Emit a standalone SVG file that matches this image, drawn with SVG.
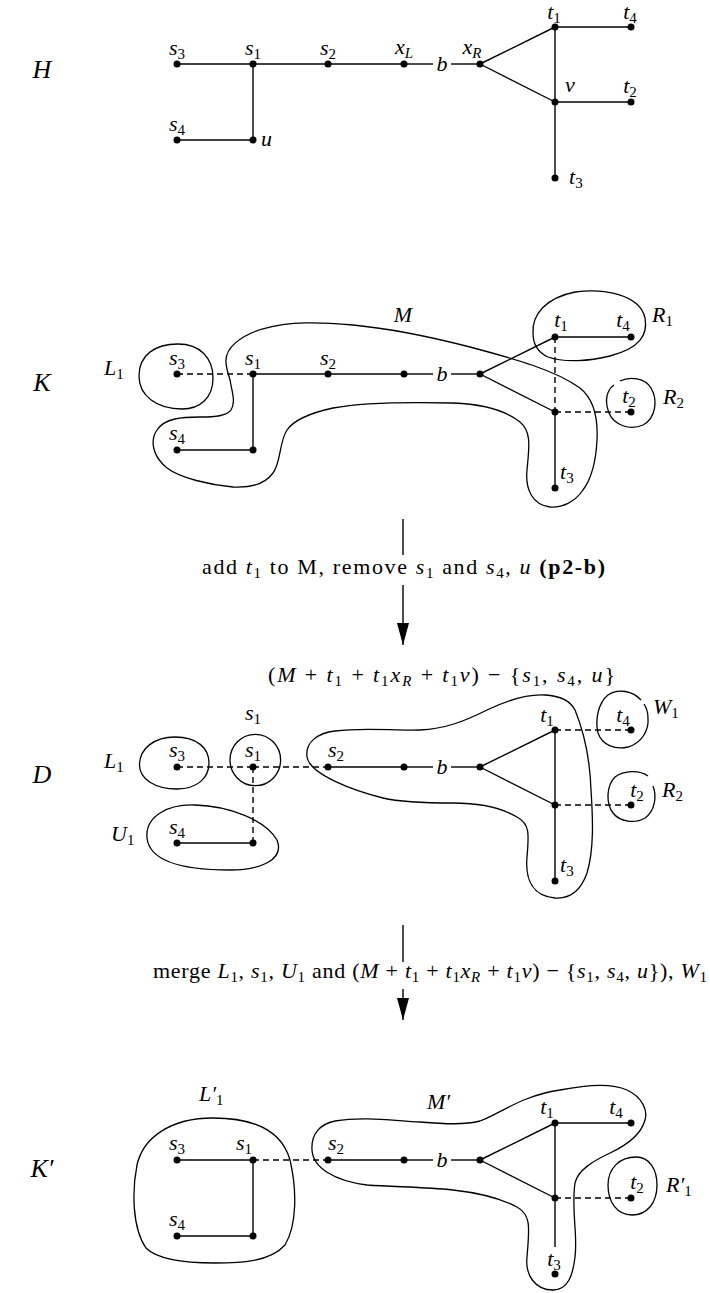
<svg xmlns="http://www.w3.org/2000/svg" width="710" height="1293" viewBox="0 0 710 1293">
<style>
.e{stroke:#000;stroke-width:1.4;fill:none}
.d{stroke:#000;stroke-width:1.4;fill:none;stroke-dasharray:6 4}
.blob{stroke:#000;stroke-width:1.3;fill:none}
.n{fill:#000}
.lb{font-family:"Liberation Serif",serif;font-style:italic;font-size:22px;fill:#000}
.rm{font-family:"Liberation Serif",serif;font-size:22px;fill:#000}
.it{font-style:italic}
.sb{font-size:15px;font-style:normal}
.sbi{font-size:15px;font-style:italic}
.sec{font-family:"Liberation Serif",serif;font-style:italic;font-size:26px;fill:#000}
</style>
<defs>
<marker id="ah" viewBox="0 0 12 22" refX="6" refY="22" markerWidth="12" markerHeight="22" markerUnits="userSpaceOnUse" orient="0"><path d="M0,0 L12,0 L6,22 Z" fill="#000"/></marker>
</defs>
<rect width="710" height="1293" fill="#fff"/>

<g id="section-labels">
<text class="sec" x="42" y="78" text-anchor="middle">H</text>
<text class="sec" x="42" y="391" text-anchor="middle">K</text>
<text class="sec" x="42" y="783" text-anchor="middle">D</text>
<text class="sec" x="42" y="1177" text-anchor="middle">K′</text>
</g>

<!-- ================= H ================= -->
<g id="H-connectors">
<line class="e" x1="177" y1="64" x2="253" y2="64"/>
<line class="e" x1="253" y1="64" x2="328" y2="64"/>
<line class="e" x1="328" y1="64" x2="404" y2="64"/>
<line class="e" x1="404" y1="64" x2="433" y2="64"/>
<line class="e" x1="451" y1="64" x2="480" y2="64"/>
<line class="e" x1="480" y1="64" x2="555" y2="27"/>
<line class="e" x1="480" y1="64" x2="555" y2="102"/>
<line class="e" x1="555" y1="27" x2="631" y2="27"/>
<line class="e" x1="555" y1="27" x2="555" y2="102"/>
<line class="e" x1="555" y1="102" x2="631" y2="102"/>
<line class="e" x1="555" y1="102" x2="555" y2="178"/>
<line class="e" x1="253" y1="64" x2="253" y2="140"/>
<line class="e" x1="177" y1="140" x2="253" y2="140"/>
</g>
<g id="H-s3"><circle class="n" cx="177" cy="64" r="3.5"/><text class="lb" x="177" y="55" text-anchor="middle">s<tspan class="sb" dy="4">3</tspan></text></g>
<g id="H-s1"><circle class="n" cx="253" cy="64" r="3.5"/><text class="lb" x="253" y="55" text-anchor="middle">s<tspan class="sb" dy="4">1</tspan></text></g>
<g id="H-s2"><circle class="n" cx="328" cy="64" r="3.5"/><text class="lb" x="328" y="55" text-anchor="middle">s<tspan class="sb" dy="4">2</tspan></text></g>
<g id="H-xL"><circle class="n" cx="404" cy="64" r="3.5"/><text class="lb" x="404" y="54" text-anchor="middle">x<tspan class="sbi" dy="4">L</tspan></text></g>
<g id="H-b"><text class="lb" x="442" y="71" text-anchor="middle">b</text></g>
<g id="H-xR"><circle class="n" cx="480" cy="64" r="3.5"/><text class="lb" x="472" y="54" text-anchor="middle">x<tspan class="sbi" dy="4">R</tspan></text></g>
<g id="H-t1"><circle class="n" cx="555" cy="27" r="3.5"/><text class="lb" x="554" y="19" text-anchor="middle">t<tspan class="sb" dy="4">1</tspan></text></g>
<g id="H-t4"><circle class="n" cx="631" cy="27" r="3.5"/><text class="lb" x="630" y="19" text-anchor="middle">t<tspan class="sb" dy="4">4</tspan></text></g>
<g id="H-v"><circle class="n" cx="555" cy="102" r="3.5"/><text class="lb" x="570" y="92" text-anchor="middle">v</text></g>
<g id="H-t2"><circle class="n" cx="631" cy="102" r="3.5"/><text class="lb" x="630" y="93" text-anchor="middle">t<tspan class="sb" dy="4">2</tspan></text></g>
<g id="H-t3"><circle class="n" cx="555" cy="178" r="3.5"/><text class="lb" x="569" y="184">t<tspan class="sb" dy="4">3</tspan></text></g>
<g id="H-s4"><circle class="n" cx="177" cy="140" r="3.5"/><text class="lb" x="177" y="131" text-anchor="middle">s<tspan class="sb" dy="4">4</tspan></text></g>
<g id="H-u"><circle class="n" cx="253" cy="140" r="3.5"/><text class="lb" x="261" y="146">u</text></g>

<!-- ================= K ================= -->
<g id="K-sets">
<path id="K-L1" class="blob" d="M139,376 C139,355 155,344 178,344 C200,344 213,358 213,378 C213,398 200,409 182,409 C157,409 139,396 139,376 Z"/>
<path id="K-M" class="blob" d="M226,362 C225,348 240,336 262,329 C290,321 320,322 353,325 C395,329 435,338 470,347 C515,359 555,370 580,388 C595,400 598,420 597,440 C596,460 592,478 583,490 C575,502 562,508 550,507 C533,505 525,490 527,470 C529,448 532,432 520,422 C505,410 480,404 453,403 C410,402 365,402 333,408 C310,413 294,420 287,430 C279,442 281,463 273,473 C265,484 250,488 233,487 C210,485 180,478 167,468 C152,456 150,440 157,430 C165,418 182,417 200,417 C215,417 227,416 231,410 C236,402 232,392 230,380 C228,372 226,368 226,362 Z"/>
<path id="K-R1" class="blob" d="M533,333 C532,315 545,298 575,292 C605,288 640,295 645,318 C648,335 640,348 610,356 C590,361 565,363 548,357 C537,352 533,343 533,333 Z"/>
<path id="K-R2" class="blob" d="M620,381 C630,376 645,378 651,388 C658,400 656,418 643,425 C630,431 614,425 609,413 C604,400 607,390 614,385"/>
<text class="lb" x="403" y="322" text-anchor="middle">M</text>
<text class="lb" x="104" y="375">L<tspan class="sb" dy="4">1</tspan></text>
<text class="lb" x="652" y="322">R<tspan class="sb" dy="4">1</tspan></text>
<text class="lb" x="663" y="404">R<tspan class="sb" dy="4">2</tspan></text>
</g>
<g id="K-connectors">
<line class="d" x1="177" y1="374" x2="253" y2="374"/>
<line class="e" x1="253" y1="374" x2="328" y2="374"/>
<line class="e" x1="328" y1="374" x2="404" y2="374"/>
<line class="e" x1="404" y1="374" x2="433" y2="374"/>
<line class="e" x1="451" y1="374" x2="480" y2="374"/>
<line class="e" x1="480" y1="374" x2="555" y2="337"/>
<line class="e" x1="480" y1="374" x2="555" y2="412"/>
<line class="e" x1="555" y1="337" x2="631" y2="337"/>
<line class="d" x1="555" y1="337" x2="555" y2="412"/>
<line class="d" x1="555" y1="412" x2="631" y2="412"/>
<line class="e" x1="555" y1="412" x2="555" y2="488"/>
<line class="e" x1="253" y1="374" x2="253" y2="450"/>
<line class="e" x1="177" y1="450" x2="253" y2="450"/>
</g>
<g id="K-s3"><circle class="n" cx="177" cy="374" r="3.5"/><text class="lb" x="177" y="365" text-anchor="middle">s<tspan class="sb" dy="4">3</tspan></text></g>
<g id="K-s1"><circle class="n" cx="253" cy="374" r="3.5"/><text class="lb" x="253" y="365" text-anchor="middle">s<tspan class="sb" dy="4">1</tspan></text></g>
<g id="K-s2"><circle class="n" cx="328" cy="374" r="3.5"/><text class="lb" x="328" y="365" text-anchor="middle">s<tspan class="sb" dy="4">2</tspan></text></g>
<g id="K-xL"><circle class="n" cx="404" cy="374" r="3.5"/></g>
<g id="K-b"><text class="lb" x="442" y="381" text-anchor="middle">b</text></g>
<g id="K-xR"><circle class="n" cx="480" cy="374" r="3.5"/></g>
<g id="K-t1"><circle class="n" cx="555" cy="337" r="3.5"/><text class="lb" x="561" y="327" text-anchor="middle">t<tspan class="sb" dy="4">1</tspan></text></g>
<g id="K-t4"><circle class="n" cx="631" cy="337" r="3.5"/><text class="lb" x="623" y="327" text-anchor="middle">t<tspan class="sb" dy="4">4</tspan></text></g>
<g id="K-v"><circle class="n" cx="555" cy="412" r="3.5"/></g>
<g id="K-t2"><circle class="n" cx="631" cy="412" r="3.5"/><text class="lb" x="629" y="403" text-anchor="middle">t<tspan class="sb" dy="4">2</tspan></text></g>
<g id="K-t3"><circle class="n" cx="555" cy="488" r="3.5"/><text class="lb" x="560" y="479">t<tspan class="sb" dy="4">3</tspan></text></g>
<g id="K-s4"><circle class="n" cx="177" cy="450" r="3.5"/><text class="lb" x="177" y="440" text-anchor="middle">s<tspan class="sb" dy="4">4</tspan></text></g>
<g id="K-u"><circle class="n" cx="253" cy="450" r="3.5"/></g>

<!-- arrow 1 -->
<g id="arrow-1">
<line class="e" x1="403" y1="519" x2="403" y2="555"/>
<line class="e" x1="403" y1="585" x2="403" y2="645" marker-end="url(#ah)"/>
<text class="rm" x="202" y="574" textLength="403" lengthAdjust="spacing">add <tspan class="it">t</tspan><tspan class="sb" dy="4">1</tspan><tspan dy="-4"> to M, remove </tspan><tspan class="it">s</tspan><tspan class="sb" dy="4">1</tspan><tspan dy="-4"> and </tspan><tspan class="it">s</tspan><tspan class="sb" dy="4">4</tspan><tspan dy="-4">, </tspan><tspan class="it">u</tspan> <tspan font-weight="bold">(p2-b)</tspan></text>
</g>

<!-- ================= D ================= -->
<g id="D-sets">
<text class="rm" x="268" y="682" textLength="347" lengthAdjust="spacing">(<tspan class="it">M</tspan> + <tspan class="it">t</tspan><tspan class="sb" dy="4">1</tspan><tspan dy="-4"> + </tspan><tspan class="it">t</tspan><tspan class="sb" dy="4">1</tspan><tspan class="it" dy="-4">x</tspan><tspan class="sbi" dy="4">R</tspan><tspan dy="-4"> + </tspan><tspan class="it">t</tspan><tspan class="sb" dy="4">1</tspan><tspan class="it" dy="-4">v</tspan>) − {<tspan class="it">s</tspan><tspan class="sb" dy="4">1</tspan><tspan dy="-4">, </tspan><tspan class="it">s</tspan><tspan class="sb" dy="4">4</tspan><tspan dy="-4">, </tspan><tspan class="it">u</tspan>}</text>
<path id="D-L1" class="blob" d="M139.5,765 C139.5,748 155,737 175,737 C197,737 209,748 209,763 C209,778 197,789 177,789 C155,789 139.5,779 139.5,765 Z"/>
<ellipse id="D-S1" class="blob" cx="255.3" cy="760" rx="25.3" ry="25.7"/>
<path id="D-U1" class="blob" d="M147,838 C145,815 170,804 195,805 C230,806 265,820 277,840 C285,860 260,870 230,870 C195,870 150,865 147,838 Z"/>
<path id="D-M" class="blob" d="M307,757 C305,742 318,733 335,731 C365,727 395,731 420,730 C445,729 465,721 487,710 C508,700 528,694 545,695 C562,696 571,702 575,710 C584,732 590,760 591,790 C593,820 594,850 587,873 C581,890 570,899 555,898 C533,896 525,880 527,857 C529,834 530,824 517,817 C500,807 480,803 453,803 C425,803 400,802 383,798 C355,791 310,775 307,757 Z"/>
<path id="D-W1" class="blob" d="M641,700 C633,691 618,688 608,695 C598,703 595,720 598,733 C602,745 615,750 628,747 C642,743 649,730 648,718 C648,712 646,707 644,704"/>
<path id="D-R2" class="blob" d="M648,776 C640,770 624,770 615,777 C606,786 606,804 613,813 C620,822 635,824 645,818 C655,811 657,796 653,786"/>
<text class="lb" x="253" y="720" text-anchor="middle">s<tspan class="sb" dy="4">1</tspan></text>
<text class="lb" x="104" y="768">L<tspan class="sb" dy="4">1</tspan></text>
<text class="lb" x="111" y="841">U<tspan class="sb" dy="4">1</tspan></text>
<text class="lb" x="653" y="714">W<tspan class="sb" dy="4">1</tspan></text>
<text class="lb" x="662" y="797">R<tspan class="sb" dy="4">2</tspan></text>
</g>
<g id="D-connectors">
<line class="d" x1="177" y1="767" x2="253" y2="767"/>
<line class="d" x1="253" y1="767" x2="328" y2="767"/>
<line class="e" x1="328" y1="767" x2="404" y2="767"/>
<line class="e" x1="404" y1="767" x2="433" y2="767"/>
<line class="e" x1="451" y1="767" x2="480" y2="767"/>
<line class="e" x1="480" y1="767" x2="555" y2="730"/>
<line class="e" x1="480" y1="767" x2="555" y2="805"/>
<line class="d" x1="555" y1="730" x2="631" y2="730"/>
<line class="e" x1="555" y1="730" x2="555" y2="805"/>
<line class="d" x1="555" y1="805" x2="631" y2="805"/>
<line class="e" x1="555" y1="805" x2="555" y2="881"/>
<line class="d" x1="253" y1="767" x2="253" y2="843"/>
<line class="e" x1="177" y1="843" x2="253" y2="843"/>
</g>
<g id="D-s3"><circle class="n" cx="177" cy="767" r="3.5"/><text class="lb" x="177" y="757" text-anchor="middle">s<tspan class="sb" dy="4">3</tspan></text></g>
<g id="D-s1"><circle class="n" cx="253" cy="767" r="3.5"/><text class="lb" x="253" y="757" text-anchor="middle">s<tspan class="sb" dy="4">1</tspan></text></g>
<g id="D-s2"><circle class="n" cx="328" cy="767" r="3.5"/><text class="lb" x="336" y="757" text-anchor="middle">s<tspan class="sb" dy="4">2</tspan></text></g>
<g id="D-xL"><circle class="n" cx="404" cy="767" r="3.5"/></g>
<g id="D-b"><text class="lb" x="442" y="774" text-anchor="middle">b</text></g>
<g id="D-xR"><circle class="n" cx="480" cy="767" r="3.5"/></g>
<g id="D-t1"><circle class="n" cx="555" cy="730" r="3.5"/><text class="lb" x="547" y="722" text-anchor="middle">t<tspan class="sb" dy="4">1</tspan></text></g>
<g id="D-t4"><circle class="n" cx="631" cy="730" r="3.5"/><text class="lb" x="623" y="722" text-anchor="middle">t<tspan class="sb" dy="4">4</tspan></text></g>
<g id="D-v"><circle class="n" cx="555" cy="805" r="3.5"/></g>
<g id="D-t2"><circle class="n" cx="631" cy="805" r="3.5"/><text class="lb" x="637" y="797" text-anchor="middle">t<tspan class="sb" dy="4">2</tspan></text></g>
<g id="D-t3"><circle class="n" cx="555" cy="881" r="3.5"/><text class="lb" x="560" y="872">t<tspan class="sb" dy="4">3</tspan></text></g>
<g id="D-s4"><circle class="n" cx="177" cy="843" r="3.5"/><text class="lb" x="177" y="834" text-anchor="middle">s<tspan class="sb" dy="4">4</tspan></text></g>
<g id="D-u"><circle class="n" cx="253" cy="843" r="3.5"/></g>

<!-- arrow 2 -->
<g id="arrow-2">
<line class="e" x1="403" y1="925" x2="403" y2="962"/>
<line class="e" x1="403" y1="989" x2="403" y2="1020" marker-end="url(#ah)"/>
<text class="rm" x="153" y="978" textLength="554" lengthAdjust="spacing">merge <tspan class="it">L</tspan><tspan class="sb" dy="4">1</tspan><tspan dy="-4">, </tspan><tspan class="it">s</tspan><tspan class="sb" dy="4">1</tspan><tspan dy="-4">, </tspan><tspan class="it">U</tspan><tspan class="sb" dy="4">1</tspan><tspan dy="-4"> and (</tspan><tspan class="it">M</tspan> + <tspan class="it">t</tspan><tspan class="sb" dy="4">1</tspan><tspan dy="-4"> + </tspan><tspan class="it">t</tspan><tspan class="sb" dy="4">1</tspan><tspan class="it" dy="-4">x</tspan><tspan class="sbi" dy="4">R</tspan><tspan dy="-4"> + </tspan><tspan class="it">t</tspan><tspan class="sb" dy="4">1</tspan><tspan class="it" dy="-4">v</tspan>) − {<tspan class="it">s</tspan><tspan class="sb" dy="4">1</tspan><tspan dy="-4">, </tspan><tspan class="it">s</tspan><tspan class="sb" dy="4">4</tspan><tspan dy="-4">, </tspan><tspan class="it">u</tspan>}), <tspan class="it">W</tspan><tspan class="sb" dy="4">1</tspan></text>
</g>

<!-- ================= K' ================= -->
<g id="K2-sets">
<path id="K2-L1" class="blob" d="M213,1118 C260,1118 283,1135 290,1160 C297,1190 297,1225 285,1245 C270,1262 240,1263 215,1263 C185,1263 158,1260 146,1248 C132,1228 132,1190 137,1165 C143,1138 170,1118 213,1118 Z"/>
<path id="K2-M" class="blob" d="M312,1150 C311,1134 320,1124 335,1121 C365,1116 395,1121 420,1122 C445,1124 465,1125 480,1121 C500,1114 520,1096 560,1090 C590,1084 612,1083 627,1090 C642,1097 648,1110 645,1120 C641,1135 625,1146 610,1153 C593,1161 578,1170 575,1183 C571,1210 578,1235 575,1257 C573,1275 568,1290 553,1290 C535,1290 525,1275 527,1257 C529,1230 532,1215 517,1207 C500,1198 480,1193 453,1190 C425,1187 395,1187 367,1185 C335,1181 313,1168 312,1150 Z"/>
<path id="K2-R1" class="blob" d="M608,1185 C608,1168 620,1157 636,1157 C650,1157 657,1170 657,1185 C657,1203 647,1215 632,1215 C617,1215 608,1202 608,1185 Z"/>
<text class="lb" x="199" y="1101">L′<tspan class="sb" dy="4">1</tspan></text>
<text class="lb" x="427" y="1109">M′</text>
<text class="lb" x="666" y="1192">R′<tspan class="sb" dy="4">1</tspan></text>
</g>
<g id="K2-connectors">
<line class="e" x1="177" y1="1160" x2="253" y2="1160"/>
<line class="d" x1="253" y1="1160" x2="328" y2="1160"/>
<line class="e" x1="328" y1="1160" x2="404" y2="1160"/>
<line class="e" x1="404" y1="1160" x2="433" y2="1160"/>
<line class="e" x1="451" y1="1160" x2="480" y2="1160"/>
<line class="e" x1="480" y1="1160" x2="555" y2="1123"/>
<line class="e" x1="480" y1="1160" x2="555" y2="1198"/>
<line class="e" x1="555" y1="1123" x2="631" y2="1123"/>
<line class="e" x1="555" y1="1123" x2="555" y2="1198"/>
<line class="d" x1="555" y1="1198" x2="631" y2="1198"/>
<line class="e" x1="555" y1="1198" x2="555" y2="1247"/>
<line class="e" x1="253" y1="1160" x2="253" y2="1236"/>
<line class="e" x1="177" y1="1236" x2="253" y2="1236"/>
</g>
<g id="K2-s3"><circle class="n" cx="177" cy="1160" r="3.5"/><text class="lb" x="177" y="1150" text-anchor="middle">s<tspan class="sb" dy="4">3</tspan></text></g>
<g id="K2-s1"><circle class="n" cx="253" cy="1160" r="3.5"/><text class="lb" x="244" y="1150" text-anchor="middle">s<tspan class="sb" dy="4">1</tspan></text></g>
<g id="K2-s2"><circle class="n" cx="328" cy="1160" r="3.5"/><text class="lb" x="336" y="1150" text-anchor="middle">s<tspan class="sb" dy="4">2</tspan></text></g>
<g id="K2-xL"><circle class="n" cx="404" cy="1160" r="3.5"/></g>
<g id="K2-b"><text class="lb" x="442" y="1167" text-anchor="middle">b</text></g>
<g id="K2-xR"><circle class="n" cx="480" cy="1160" r="3.5"/></g>
<g id="K2-t1"><circle class="n" cx="555" cy="1123" r="3.5"/><text class="lb" x="547" y="1114" text-anchor="middle">t<tspan class="sb" dy="4">1</tspan></text></g>
<g id="K2-t4"><circle class="n" cx="631" cy="1123" r="3.5"/><text class="lb" x="616" y="1114" text-anchor="middle">t<tspan class="sb" dy="4">4</tspan></text></g>
<g id="K2-v"><circle class="n" cx="555" cy="1198" r="3.5"/></g>
<g id="K2-t2"><circle class="n" cx="631" cy="1198" r="3.5"/><text class="lb" x="637" y="1189" text-anchor="middle">t<tspan class="sb" dy="4">2</tspan></text></g>
<g id="K2-t3"><circle class="n" cx="555" cy="1274" r="3.5"/><text class="lb" x="554" y="1266" text-anchor="middle">t<tspan class="sb" dy="4">3</tspan></text></g>
<g id="K2-s4"><circle class="n" cx="177" cy="1236" r="3.5"/><text class="lb" x="177" y="1226" text-anchor="middle">s<tspan class="sb" dy="4">4</tspan></text></g>
<g id="K2-u"><circle class="n" cx="253" cy="1236" r="3.5"/></g>
</svg>
